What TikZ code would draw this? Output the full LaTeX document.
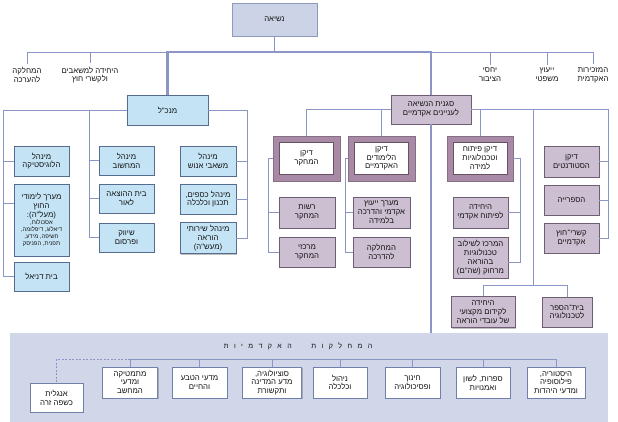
\documentclass[tikz,border=0pt]{standalone}
\usepackage{fontspec}
\newfontfamily\heb[Script=Hebrew]{Liberation Sans}
\TeXXeTstate=1
\newcommand\HL[1]{\beginR#1\endR}
\newcommand\HS[1]{{\fontsize{5.9}{6.8}\selectfont\beginR#1\endR}}
\usetikzlibrary{shadows}
\definecolor{lncol}{HTML}{8C96C6}
\definecolor{bluefill}{HTML}{C4E4F6}
\definecolor{bluebd}{HTML}{566C8E}
\definecolor{mauvefill}{HTML}{CDBFD2}
\definecolor{mauvebd}{HTML}{6E5E73}
\definecolor{deanframe}{HTML}{A88AA6}
\definecolor{presfill}{HTML}{CDD3E7}
\definecolor{presbd}{HTML}{8E99BF}
\definecolor{panelcol}{HTML}{D1D7E9}
\definecolor{deptbd}{HTML}{7080A8}
\begin{document}
\begin{tikzpicture}[x=1pt,y=-1pt,
  every node/.style={font=\heb\fontsize{7.8}{8.8}\selectfont, align=center, inner sep=1pt, text=black!92},
  sz/.style n args={2}{minimum width=#1pt, minimum height=#2pt},
  ln/.style={draw=lncol, line width=0.8pt},
  thk/.style={draw=lncol, line width=2.6pt},
  shad/.style={drop shadow={shadow xshift=1.3pt, shadow yshift=-1.3pt, opacity=0.5}},
  bbox/.style={draw=bluebd, fill=bluefill, line width=0.7pt, shad},
  mbox/.style={draw=mauvebd, fill=mauvefill, line width=0.7pt, shad},
  dframe/.style={fill=deanframe, draw=deanframe!80!black, line width=0.3pt},
  dinner/.style={fill=white, draw=deanframe!60!black, line width=0.3pt},
  pbox/.style={draw=presbd, fill=presfill, line width=0.7pt, shad},
  dept/.style={draw=deptbd, fill=white, line width=0.7pt, shad},
  lab/.style={inner sep=0pt}
]
\useasboundingbox (0,0) rectangle (618,422);
\fill[white] (0,0) rectangle (618,422);
\fill[panelcol] (10,333) rectangle (608,422);

% top
\node[pbox, sz={85}{33}] (pres) at (274.5,19.5) {\HL{נשיאה}};
\coordinate (barL) at (27,52);
\coordinate (barR) at (593,52);
\node[lab] (l1) at (27,75) {\HL{המחלקה}\\\HL{להערכה}};
\node[lab] (l2) at (90,75) {\HL{היחידה למשאבים}\\\HL{ולקשרי חוץ}};
\node[lab] (l3) at (490,75) {\HL{יחסי}\\\HL{הציבור}};
\node[lab] (l4) at (547,75) {\HL{ייעוץ}\\\HL{משפטי}};
\node[lab] (l5) at (593,75) {\HL{המזכירות}\\\HL{האקדמית}};
\draw[ln] (pres.south) -- (pres.south |- barL);
\draw[ln] (barL) -- (barR);
\foreach \n in {l1,l2,l3,l4,l5}{\draw[ln] (\n.north |- barL) -- ([yshift=3pt]\n.north);}

% main nodes
\node[bbox, sz={81}{30}] (mankal) at (167.5,110) {\HL{מנכ"ל}};
\node[mbox, sz={80}{29}] (vp) at (431,109.5) {\HL{סגנית הנשיאה}\\\HL{לעניינים אקדמיים}};
\draw[thk] (mankal.north) -- (mankal.north |- barL) -- (vp.north |- barL) -- (vp.north);
\draw[thk] (vp.south) -- (vp.south |- 0,333);

% mankal subtree
\node[bbox, sz={55}{30}] (logi) at (41.5,161) {\HL{מינהל}\\\HL{הלוגיסטיקה}};
\node[bbox, sz={55}{72}] (maarach) at (41.5,220) {\HL{מערך לימודי}\\\HL{החוץ}\\\HL{(מעל"ה):}\\[-1.5pt]
  \HS{אסכולות,}\\[-1.8pt]\HS{דיאלוג, דיפלומה,}\\[-1.8pt]\HS{חשיפה, מידע,}\\[-1.8pt]\HS{תפנית, הפניסק}};
\node[bbox, sz={55}{29}] (daniel) at (41.5,276.5) {\HL{בית דניאל}};
\node[bbox, sz={55}{29}] (comp) at (126.5,160.5) {\HL{מינהל}\\\HL{המחשוב}};
\node[bbox, sz={55}{29}] (press) at (126.5,198.5) {\HL{בית ההוצאה}\\\HL{לאור}};
\node[bbox, sz={55}{29}] (market) at (126.5,237.5) {\HL{שיווק}\\\HL{ופרסום}};
\node[bbox, sz={56}{30}] (hr) at (208,161) {\HL{מינהל}\\\HL{משאבי אנוש}};
\node[bbox, sz={56}{30}] (fin) at (208,199) {\HL{מינהל כספים,}\\\HL{תכנון וכלכלה}};
\node[bbox, sz={56}{31}] (teach) at (208,238) {\HL{מינהל שירותי}\\\HL{הוראה}\\\HL{(מעש"ה)}};
\coordinate (lv) at (3,110);
\coordinate (mv) at (89,110);
\coordinate (rv) at (247,110);
\draw[ln] (mankal.west) -- (lv) |- (daniel.west);
\draw[ln] (lv) |- (logi.west);
\draw[ln] (lv) |- (maarach.west |- 0,203);
\draw[ln] (mv) |- (market.west);
\draw[ln] (mv) |- (comp.west);
\draw[ln] (mv) |- (press.west);
\draw[ln] (mankal.east) -- (rv) |- (teach.east);
\draw[ln] (rv) |- (hr.east);
\draw[ln] (rv) |- (fin.east);

% VP subtree: deans
\node[dframe, sz={67}{45}] (drsF) at (306.5,158.5) {};
\node[dinner, sz={54}{32}] (drs) at (drsF) {\HL{דיקן}\\\HL{המחקר}};
\node[dframe, sz={67}{45}] (dacF) at (381.5,158.5) {};
\node[dinner, sz={54}{32}] (dac) at (dacF) {\HL{דיקן}\\\HL{הלימודים}\\\HL{האקדמיים}};
\node[dframe, sz={66}{45}] (ddvF) at (480,158.5) {};
\node[dinner, sz={54}{32}] (ddv) at (ddvF) {\HL{דיקן פיתוח}\\\HL{וטכנולוגיות}\\\HL{למידה}};

\node[mbox, sz={56}{31}] (rashut) at (307,212.5) {\HL{רשות}\\\HL{המחקר}};
\node[mbox, sz={56}{30}] (merkazei) at (307,252) {\HL{מרכזי}\\\HL{המחקר}};
\node[mbox, sz={57}{31}] (yeutz) at (381.5,212.5) {\HL{מערך ייעוץ}\\\HL{אקדמי והדרכה}\\\HL{בלמידה}};
\node[mbox, sz={57}{30}] (hadracha) at (381.5,252) {\HL{המחלקה}\\\HL{להדרכה}};
\node[mbox, sz={55}{31}] (pituach) at (480.5,212.5) {\HL{היחידה}\\\HL{לפיתוח אקדמי}};
\node[mbox, sz={55}{41}] (shoham) at (480.5,257.5) {\HL{המרכז לשילוב}\\\HL{טכנולוגיות}\\\HL{בהוראה}\\\HL{מרחוק (שה"ם)}};
\node[mbox, sz={55}{31}] (students) at (571.5,161.5) {\HL{דיקן}\\\HL{הסטודנטים}};
\node[mbox, sz={55}{30}] (library) at (571.5,200) {\HL{הספרייה}};
\node[mbox, sz={55}{30}] (kishrei) at (571.5,238) {\HL{קשרי־חוץ}\\\HL{אקדמיים}};
\node[mbox, sz={64}{31}] (kidum) at (483,312) {\HL{היחידה}\\\HL{לקידום מקצועי}\\\HL{של עובדי הוראה}};
\node[mbox, sz={50}{30}] (school) at (567,312) {\HL{בית־הספר}\\\HL{לטכנולוגיה}};

\draw[ln] (vp.west) -- (drsF.north |- vp.west) -- (drsF.north);
\draw[ln] (dacF.north) -- (dacF.north |- vp.west);
\coordinate (rv2) at (608,109.5);
\coordinate (bv) at (533,109.5);
\coordinate (bj) at (533,285);
\draw[ln] (vp.east) -- (rv2) |- (kishrei.east);
\draw[ln] (rv2) |- (students.east);
\draw[ln] (rv2) |- (library.east);
\draw[ln] (ddvF.north) -- (ddvF.north |- vp.east);
\draw[ln] (bv) -- (bj);
\draw[ln] (kidum.north) |- (school.north |- bj) -- (school.north);

\coordinate (v1) at (268,158.5);
\coordinate (v2) at (345,158.5);
\coordinate (v3) at (520,158.5);
\draw[ln] (drsF.west) -- (v1) |- (merkazei.west);
\draw[ln] (v1) |- (rashut.west);
\draw[ln] (dacF.west) -- (v2) |- (hadracha.west);
\draw[ln] (v2) |- (yeutz.west);
\draw[ln] (ddvF.east) -- (v3) |- (shoham.east |- 0,262);
\draw[ln] (v3) |- (pituach.east);

% academic departments
\node[lab, font=\heb\fontsize{7}{8}\selectfont] (title) at (298,346)
  {\spaceskip=5.4pt\relax\HL{ה מ ח ל ק ו ת \hspace{9pt} ה א ק ד מ י ו ת}};
\node[dept, sz={58}{31}] (hist) at (556,382.5) {\HL{היסטוריה,}\\\HL{פילוסופיה}\\\HL{ומדעי היהדות}};
\node[dept, sz={54}{31}] (lit) at (483,382.5) {\HL{ספרות, לשון}\\\HL{ואמנויות}};
\node[dept, sz={55}{31}] (edu) at (412.5,382.5) {\HL{חינוך}\\\HL{ופסיכולוגיה}};
\node[dept, sz={54}{31}] (mgmt) at (340,382.5) {\HL{ניהול}\\\HL{וכלכלה}};
\node[dept, sz={59}{31}] (socio) at (272,382.5) {\HL{סוציולוגיה,}\\\HL{מדע המדינה}\\\HL{ותקשורת}};
\node[dept, sz={55}{31}] (nature) at (199.5,382.5) {\HL{מדעי הטבע}\\\HL{והחיים}};
\node[dept, sz={55}{31}] (math) at (130,382.5) {\HL{מתמטיקה}\\\HL{ומדעי}\\\HL{המחשב}};
\node[dept, sz={53}{29}] (eng) at (56.5,397.5) {\HL{אנגלית}\\\HL{כשפה זרה}};
\coordinate (dl) at (130,359);
\draw[ln] (math.north) -- (dl) -- (hist.north |- dl) -- (hist.north);
\foreach \n in {lit,edu,mgmt,socio,nature}{\draw[ln] (\n.north) -- (\n.north |- dl);}
\draw[ln, dashed, dash pattern=on 2pt off 1.5pt] (dl) -| (eng.north);
\end{tikzpicture}
\end{document}
